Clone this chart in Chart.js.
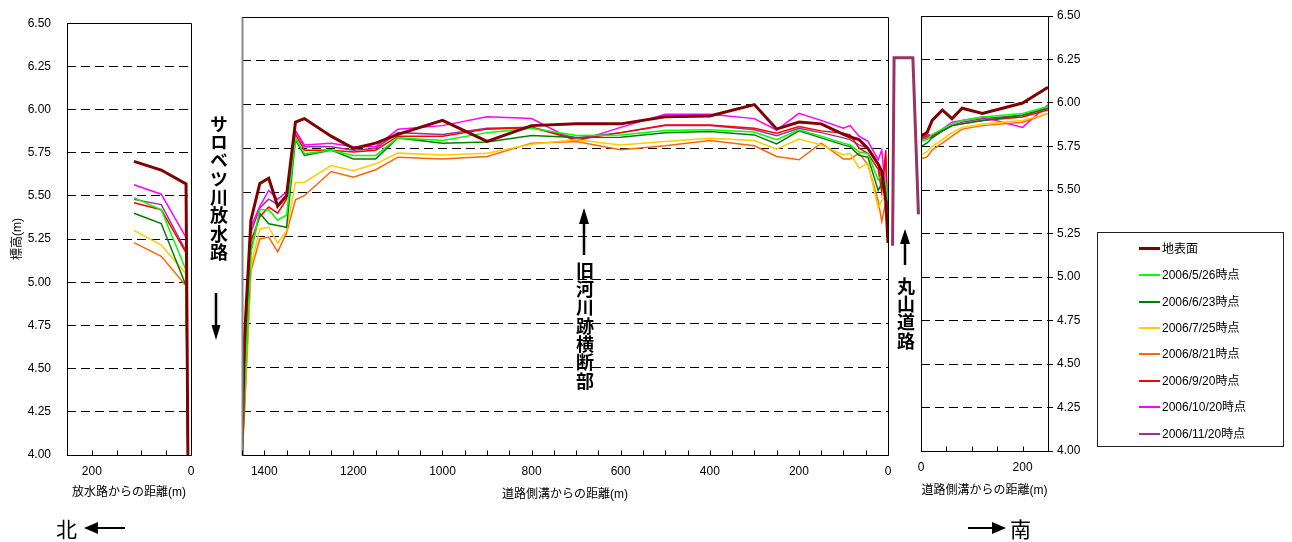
<!DOCTYPE html>
<html lang="ja">
<head>
<meta charset="utf-8">
<script src="https://cdn.jsdelivr.net/npm/chart.js@4.4.1/dist/chart.umd.min.js"></script>
<style>
  body { margin: 0; background: #fff; }
  #wrap { position: relative; width: 1292px; height: 542px; overflow: hidden; }
  .layer { position: absolute; left: 0; top: 0; width: 1292px; height: 542px; }
  .vtext { position: absolute; width: 18px; writing-mode: vertical-rl; text-orientation: upright;
           font-family: 'Noto Sans CJK JP', sans-serif; font-weight: bold; font-size: 18px;
           line-height: 18px; letter-spacing: 0.3px; color: #000; }
  .dir { position: absolute; font-family: 'Noto Sans CJK JP', sans-serif; font-size: 21px; line-height: 24px; color: #000; }
  #legend { position: absolute; left: 1097px; top: 232px; width: 185px; height: 213px; border: 1px solid #222;
            font-family: 'Liberation Sans', 'Noto Sans CJK JP', sans-serif; font-size: 12px; color: #000; }
  #legend .row { position: absolute; left: 0; height: 14px; }
  #legend .sw { position: absolute; left: 41px; width: 21px; }
  #legend .lb { position: absolute; left: 64px; top: 0; white-space: nowrap; line-height: 14px; }
</style>
</head>
<body>
<div id="wrap">
  <div class="layer"><canvas id="cLeft"></canvas></div>
  <div class="layer"><canvas id="cMid"></canvas></div>
  <div class="layer"><canvas id="cRight"></canvas></div>
  <div class="layer"><canvas id="cRoad"></canvas></div>

  <div class="vtext" style="left:210px; top:115px;">サロベツ川放水路</div>
  <div class="vtext" style="left:576px; top:262px;">旧河川跡横断部</div>
  <div class="vtext" style="left:897px; top:277px;">丸山道路</div>
  <div class="dir" style="left:56px; top:516px;">北</div>
  <div class="dir" style="left:1010px; top:516px;">南</div>

  <svg class="layer" width="1292" height="542">
    <g stroke="#000" stroke-width="2.5" fill="#000">
      <line x1="216" y1="293" x2="216" y2="327"/>
      <polygon points="216,340 211.5,325 220.5,325" stroke="none"/>
      <line x1="584" y1="222" x2="584" y2="255"/>
      <polygon points="584,208 579,224 589,224" stroke="none"/>
      <line x1="905" y1="242" x2="905" y2="265"/>
      <polygon points="905,229 900,244 910,244" stroke="none"/>
      <line x1="96" y1="528" x2="125" y2="528" stroke-width="2"/>
      <polygon points="84,528 98,522 98,534" stroke="none"/>
      <line x1="968" y1="528" x2="994" y2="528" stroke-width="2"/>
      <polygon points="1006,528 992,522 992,534" stroke="none"/>
    </g>
  </svg>

  <div id="legend"></div>
</div>

<script>
// distances (m) of the survey points in each panel
const leftX  = [115, 60, 10, 6];
const midX   = [1450, 1445, 1430, 1410, 1390, 1370, 1350, 1330, 1310, 1250, 1200, 1150, 1100, 1000, 900, 800,
                700, 600, 500, 400, 300, 250, 200, 150, 100, 85, 65, 45, 22, 14, 5, 0];
const rightX = [0, 12, 22, 42, 61, 81, 121, 200, 250];

// 地表面
const groundLeft  = [5.70, 5.65, 5.57, 3.9];
const groundMid   = [4.00, 4.64, 5.34, 5.55, 5.58, 5.42, 5.48, 5.90, 5.92, 5.82, 5.75, 5.78, 5.83, 5.91, 5.79, 5.88,
                     5.89, 5.89, 5.93, 5.935, 6.00, 5.86, 5.90, 5.89, 5.83, 5.815, 5.80, 5.75, 5.66, 5.62, 5.45, 5.21];
const groundRight = [5.81, 5.83, 5.90, 5.96, 5.91, 5.97, 5.94, 6.00, 6.09];

// 2006/5/26
const may26Left  = [5.49, 5.42, 5.07, 3.9];
const may26Mid   = [4.00, 4.30, 5.15, 5.40, 5.40, 5.34, 5.37, 5.81, 5.72, 5.74, 5.71, 5.71, 5.81, 5.795, 5.84, 5.865,
                    5.823, 5.827, 5.852, 5.856, 5.843, 5.80, 5.856, 5.82, 5.78, 5.77, 5.73, 5.72, 5.57, 5.60, 5.55, 5.45];
const may26Right = [5.78, 5.79, 5.82, 5.85, 5.88, 5.90, 5.92, 5.94, 5.98];

// 2006/6/23
const jun23Left  = [5.40, 5.34, 4.98, 3.9];
const jun23Mid   = [4.00, 4.35, 5.17, 5.38, 5.32, 5.31, 5.30, 5.80, 5.71, 5.74, 5.69, 5.69, 5.81, 5.78, 5.786, 5.823,
                    5.812, 5.814, 5.84, 5.846, 5.827, 5.776, 5.85, 5.81, 5.77, 5.76, 5.71, 5.70, 5.51, 5.55, 5.48, 5.40];
const jun23Right = [5.75, 5.77, 5.80, 5.84, 5.87, 5.88, 5.90, 5.93, 5.97];

// 2006/7/25
const jul25Left  = [5.30, 5.215, 5.05, 3.9];
const jul25Mid   = [4.00, 4.30, 5.08, 5.29, 5.30, 5.21, 5.28, 5.556, 5.556, 5.652, 5.622, 5.662, 5.723, 5.713, 5.723, 5.774,
                    5.799, 5.77, 5.789, 5.808, 5.795, 5.746, 5.803, 5.77, 5.713, 5.722, 5.637, 5.666, 5.41, 5.45, 5.48, 5.30];
const jul25Right = [5.70, 5.72, 5.75, 5.79, 5.83, 5.86, 5.88, 5.90, 5.94];

// 2006/8/21
const aug21Left  = [5.23, 5.15, 4.98, 3.9];
const aug21Mid   = [4.00, 4.20, 5.05, 5.233, 5.244, 5.159, 5.267, 5.457, 5.48, 5.618, 5.586, 5.628, 5.70, 5.69, 5.704, 5.78,
                    5.789, 5.742, 5.765, 5.795, 5.765, 5.704, 5.685, 5.78, 5.689, 5.689, 5.722, 5.656, 5.45, 5.333, 5.447, 5.40];
const aug21Right = [5.68, 5.69, 5.73, 5.77, 5.81, 5.85, 5.87, 5.89, 5.94];

// 2006/9/20
const sep20Left  = [5.46, 5.42, 5.17, 3.9];
const sep20Mid   = [4.00, 4.45, 5.22, 5.36, 5.415, 5.38, 5.46, 5.83, 5.74, 5.74, 5.73, 5.74, 5.82, 5.82, 5.86, 5.87,
                    5.80, 5.84, 5.883, 5.884, 5.865, 5.837, 5.875, 5.85, 5.837, 5.827, 5.751, 5.72, 5.63, 5.50, 5.74, 5.27];
const sep20Right = [5.80, 5.81, 5.81, 5.84, 5.87, 5.88, 5.90, 5.92, 5.96];

// 2006/10/20
const oct20Left  = [5.565, 5.51, 5.26, 3.9];
const oct20Mid   = [4.00, 4.55, 5.30, 5.42, 5.51, 5.46, 5.50, 5.85, 5.77, 5.78, 5.76, 5.76, 5.86, 5.88, 5.93, 5.92,
                    5.79, 5.87, 5.945, 5.945, 5.92, 5.855, 5.95, 5.91, 5.865, 5.88, 5.82, 5.79, 5.685, 5.74, 5.50, 5.35];
const oct20Right = [5.79, 5.82, 5.81, 5.85, 5.89, 5.90, 5.92, 5.86, 5.99];

// 2006/11/20
const nov20Left  = [5.48, 5.45, 5.18, 3.9];
const nov20Mid   = [4.00, 4.50, 5.27, 5.41, 5.46, 5.43, 5.48, 5.85, 5.76, 5.76, 5.74, 5.75, 5.84, 5.83, 5.865, 5.87,
                    5.81, 5.84, 5.88, 5.88, 5.856, 5.823, 5.865, 5.84, 5.81, 5.80, 5.77, 5.75, 5.66, 5.55, 5.67, 5.35];
const nov20Right = [5.79, 5.80, 5.80, 5.84, 5.87, 5.89, 5.91, 5.93, 5.97];

// 丸山道路 road profile
const roadX = [-56, -53, -16, -5];
const roadY = [5.18, 6.26, 6.26, 5.36];

const labels = ['地表面', '2006/5/26時点', '2006/6/23時点', '2006/7/25時点', '2006/8/21時点',
                '2006/9/20時点', '2006/10/20時点', '2006/11/20時点'];
const colors = ['#800000', '#00ff00', '#008000', '#ffcc00', '#ff6600', '#ff0000', '#ff00ff', '#993399'];
const widths = [3, 1.5, 1.5, 1.5, 1.5, 1.5, 1.5, 1.5];

const leftSeries  = [groundLeft, may26Left, jun23Left, jul25Left, aug21Left, sep20Left, oct20Left, nov20Left];
const midSeries   = [groundMid, may26Mid, jun23Mid, jul25Mid, aug21Mid, sep20Mid, oct20Mid, nov20Mid];
const rightSeries = [groundRight, may26Right, jun23Right, jul25Right, aug21Right, sep20Right, oct20Right, nov20Right];

Chart.defaults.font.family = "'Liberation Sans', 'Noto Sans CJK JP', sans-serif";
Chart.defaults.color = '#000';
Chart.defaults.animation = false;

// box around each panel + small inward tick marks on the x axis
const framePlugin = {
  id: 'frame',
  afterDatasetsDraw(chart, args, opts) {
    if (!opts.on) return;
    const { ctx, chartArea: a } = chart;
    const l = Math.round(a.left) + 0.5, r = Math.round(a.right) + 0.5;
    const t = Math.round(a.top) + 0.5, b = Math.round(a.bottom) + 0.5;
    ctx.save();
    ctx.lineWidth = 1;
    ctx.strokeStyle = '#000';
    ctx.beginPath();
    ctx.moveTo(l, t); ctx.lineTo(r, t); ctx.lineTo(r, b); ctx.lineTo(l, b);
    ctx.stroke();
    ctx.strokeStyle = opts.leftColor || '#000';
    ctx.lineWidth = opts.leftWidth || 1;
    ctx.beginPath();
    ctx.moveTo(l, t); ctx.lineTo(l, b);
    ctx.stroke();
    const xs = chart.scales.x;
    ctx.strokeStyle = '#000';
    ctx.lineWidth = 1;
    xs.ticks.forEach(tk => {
      const px = Math.round(xs.getPixelForValue(tk.value)) + 0.5;
      ctx.beginPath();
      ctx.moveTo(px, b);
      ctx.lineTo(px, b - 5);
      ctx.stroke();
    });
    ctx.restore();
  }
};
Chart.register(framePlugin);

function makeSets(xs, series) {
  return series.map((vals, i) => ({
    label: labels[i],
    data: xs.map((x, j) => ({ x: x, y: vals[j] })),
    borderColor: colors[i],
    borderWidth: widths[i],
    pointRadius: 0,
    tension: 0,
    fill: false
  }));
}

function yAxis(position, showLabels, width) {
  const right = position === 'right';
  return {
    type: 'linear', position: position, min: 4, max: 6.5,
    ticks: { display: showLabels, stepSize: 0.25, padding: right ? 4 : 16,
             font: { size: 12 }, callback: v => v.toFixed(2) },
    grid: { color: '#000', lineWidth: 1, drawTicks: right, tickLength: 5, tickColor: '#000' },
    border: { display: false, dash: [9, 5] },
    afterFit(s) { s.width = width; }
  };
}

function xAxis(max, reverse, height, title) {
  return {
    type: 'linear', min: 0, max: max, reverse: reverse,
    ticks: { stepSize: 50, autoSkip: false, maxRotation: 0, padding: 9, font: { size: 12 },
             callback: v => (v % 200 === 0 ? String(v) : '') },
    grid: { display: false, drawTicks: false },
    border: { display: false },
    title: { display: true, text: title, font: { size: 12 }, padding: { top: 0, bottom: 4 } },
    afterFit(s) { s.height = height; }
  };
}

function baseOptions(padding, scales, frame) {
  return {
    responsive: true, maintainAspectRatio: false,
    layout: { padding: padding },
    plugins: { legend: { display: false }, tooltip: { enabled: false }, frame: frame },
    scales: scales
  };
}

const leftY = yAxis('left', true, 67);
leftY.title = { display: true, text: '標高(m)', font: { size: 12 }, padding: { top: 10, bottom: 0 } };

new Chart(document.getElementById('cLeft'), {
  type: 'line',
  data: { datasets: makeSets(leftX, leftSeries) },
  options: baseOptions({ left: 0, top: 13, right: 1292 - 191, bottom: 542 - 455 - 49 },
    { x: xAxis(250, true, 49, '放水路からの距離(m)'), y: leftY },
    { on: true })
});

new Chart(document.getElementById('cMid'), {
  type: 'line',
  data: { datasets: makeSets(midX, midSeries) },
  options: baseOptions({ left: 242, top: 17, right: 1292 - 888, bottom: 542 - 455 - 51 },
    { x: xAxis(1450, true, 51, '道路側溝からの距離(m)'), y: yAxis('left', false, 0) },
    { on: true, leftColor: '#888', leftWidth: 2 })
});

new Chart(document.getElementById('cRight'), {
  type: 'line',
  data: { datasets: makeSets(rightX, rightSeries) },
  options: baseOptions({ left: 921, top: 16, right: 1292 - 1048 - 50, bottom: 542 - 451 - 51 },
    { x: xAxis(250, false, 51, '道路側溝からの距離(m)'), y: yAxis('right', true, 50) },
    { on: true })
});

new Chart(document.getElementById('cRoad'), {
  type: 'line',
  data: { datasets: [{
    data: roadX.map((x, j) => ({ x: x, y: roadY[j] })),
    borderColor: '#993366', borderWidth: 3, pointRadius: 0, tension: 0, fill: false
  }] },
  options: baseOptions({ left: 889, top: 16, right: 1292 - 921, bottom: 542 - 451 },
    { x: { type: 'linear', display: false, min: -63, max: 0 },
      y: { type: 'linear', display: false, min: 4, max: 6.5 } },
    { on: false })
});

// legend box
const legend = document.getElementById('legend');
labels.forEach((name, i) => {
  const row = document.createElement('div');
  row.className = 'row';
  row.style.top = (8.7 + i * 26.4) + 'px';
  row.style.width = '100%';
  const sw = document.createElement('div');
  sw.className = 'sw';
  const h = widths[i] > 2 ? 3 : 2;
  sw.style.height = h + 'px';
  sw.style.top = (7 - h / 2) + 'px';
  sw.style.background = colors[i];
  const lb = document.createElement('div');
  lb.className = 'lb';
  lb.textContent = name;
  row.appendChild(sw);
  row.appendChild(lb);
  legend.appendChild(row);
});
</script>
</body>
</html>
